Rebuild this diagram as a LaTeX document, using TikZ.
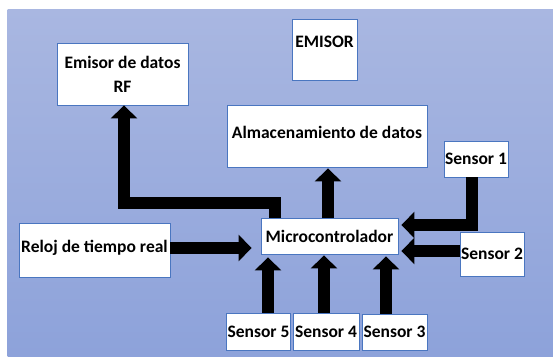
\documentclass[tikz,border=0pt]{standalone}
\usepackage{fontspec}
\setmainfont{Carlito}
\usetikzlibrary{arrows.meta,calc}
\definecolor{bgtop}{HTML}{A9B7E1}
\definecolor{bgbot}{HTML}{8DA2DA}
\definecolor{boxline}{HTML}{4A76C0}
\begin{document}
\begin{tikzpicture}[x=1pt,y=-1pt,
  box/.style={draw=boxline, line width=0.9pt, fill=white, inner sep=1pt,
    font=\fontsize{17.5}{24}\selectfont\bfseries, align=center},
  bigarrow/.style={draw=black, line width=12.5pt, line join=miter,
    -{Triangle[width=26pt,length=13pt]}}]
\useasboundingbox (0,0) rectangle (553,356);
\shade[top color=bgtop, bottom color=bgbot] (7.5,9.5) rectangle (553,356);

\node[box, minimum width=131pt, minimum height=62pt] (rf) at (122.5,74) {Emisor de datos\\RF};
\node[box, minimum width=65pt, minimum height=61pt,
  label={[font=\fontsize{17.5}{20}\selectfont\bfseries, anchor=center]center:{\raisebox{15pt}{EMISOR}}}] (emisor) at (324.5,49.5) {};
\node[box, minimum width=200pt, minimum height=62pt, text height=17pt, text depth=12pt] (alm) at (327,136) {Almacenamiento de datos};
\node[box, minimum width=64pt, minimum height=36pt] (s1) at (476,159) {Sensor 1};
\node[box, minimum width=137pt, minimum height=36pt] (micro) at (329.5,236) {Microcontrolador};
\node[box, minimum width=151pt, minimum height=54pt, text height=15pt, text depth=10pt] (reloj) at (94.5,250) {Reloj de tiempo real};
\node[box, minimum width=64pt, minimum height=44pt] (s2) at (492,254) {Sensor 2};
\node[box, minimum width=63pt, minimum height=37pt] (s5) at (258.5,331.5) {Sensor 5};
\node[box, minimum width=66pt, minimum height=37pt] (s4) at (326,331.5) {Sensor 4};
\node[box, minimum width=65pt, minimum height=36pt] (s3) at (394.5,332) {Sensor 3};

\coordinate (rfturn) at (124,203);
\draw[bigarrow] (micro.north -| 275,0) |- (rfturn) -- (rf.south -| 124,0);
\draw[bigarrow] (micro.north -| 328,0) -- ($(alm.south -| 328,0)+(0,1)$);
\draw[bigarrow] (reloj.east |- 0,248) -- ($(micro.west |- 0,248)+(-9,0)$);
\draw[bigarrow] (s1.south -| 472,0) |- ($(micro.east |- 0,225)+(3,0)$);
\draw[bigarrow] (s2.west |- 0,251) -- ($(micro.east |- 0,251)+(3,0)$);
\draw[bigarrow] (s5.north -| 268,0) -- ($(micro.south -| 268,0)+(0,3)$);
\draw[bigarrow] (s4.north -| 324,0) -- ($(micro.south -| 324,0)+(0,1)$);
\draw[bigarrow] (s3.north -| 386,0) -- ($(micro.south -| 386,0)+(0,2)$);
\end{tikzpicture}
\end{document}
